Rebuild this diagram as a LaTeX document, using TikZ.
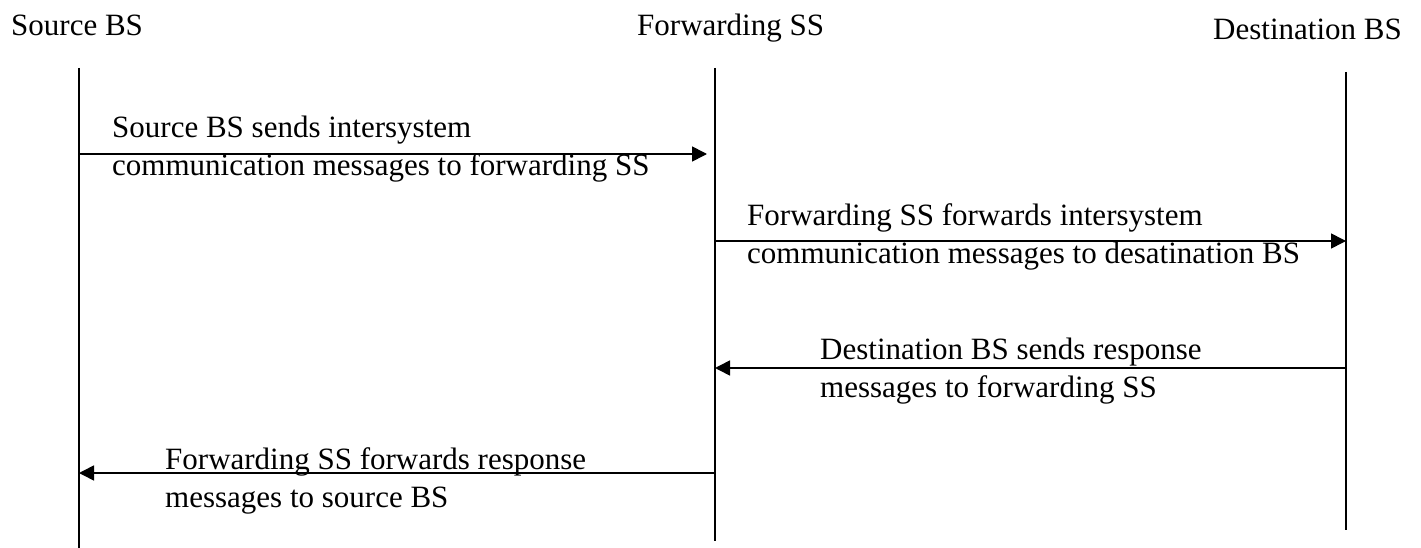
\documentclass[tikz,border=0pt]{standalone}
\usepackage{fontspec}
\setmainfont{Liberation Serif}
\usetikzlibrary{arrows.meta}
\begin{document}
\begin{tikzpicture}[x=1pt,y=-1pt,
  lifeline/.style={line width=1.6pt},
  msg/.style={line width=1.6pt,-{Triangle[length=15pt,width=15pt]}},
  head/.style={anchor=base west,inner sep=0pt,font=\fontsize{31}{38}\selectfont},
  msgtext/.style={anchor=base west,inner sep=0pt,align=left,font=\fontsize{31}{38}\selectfont}]
\useasboundingbox[fill=white] (0,0) rectangle (1421,548);
% headers
\node[head] (hs) at (11,36) {Source BS};
\node[head] (hf) at (637,36) {Forwarding SS};
\node[head] (hd) at (1213,40) {Destination BS};
% lifelines
\coordinate (st) at (79,68);   \coordinate (sb) at (79,548);
\coordinate (ft) at (715,68);  \coordinate (fb) at (715,541);
\coordinate (dt) at (1346,72); \coordinate (db) at (1346,530);
\draw[lifeline] (st) -- (sb);
\draw[lifeline] (ft) -- (fb);
\draw[lifeline] (dt) -- (db);
% message end points
\coordinate (s1) at (79,154);  \coordinate (f1) at (715,154);
\coordinate (f2) at (715,241); \coordinate (d2) at (1346,241);
\coordinate (d3) at (1346,368);\coordinate (f3) at (715,368);
\coordinate (f4) at (715,473); \coordinate (s4) at (79,473);
\draw[msg,shorten >=8pt] (s1) -- (f1);
\draw[msg] (f2) -- (d2);
\draw[msg] (d3) -- (f3);
\draw[msg] (f4) -- (s4);
% labels (base anchor = baseline of the last line)
\node[msgtext] (t1) at (112,176) {Source BS sends intersystem\\communication messages to forwarding SS};
\node[msgtext] (t2) at (747,263) {Forwarding SS forwards intersystem\\communication messages to desatination BS};
\node[msgtext] (t3) at (820,397) {Destination BS sends response\\messages to forwarding SS};
\node[msgtext] (t4) at (165,507) {Forwarding SS forwards response\\messages to source BS};
\end{tikzpicture}
\end{document}
